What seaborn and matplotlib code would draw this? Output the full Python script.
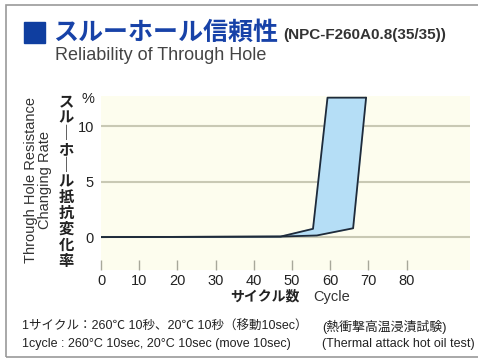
import numpy as np
import pandas as pd
import seaborn as sns
import matplotlib.pyplot as plt
from matplotlib.patches import Rectangle

# band of measured resistance change (%), max side and min side
cycle_max = [0, 47, 55.5, 59.3, 69.4]
rate_max = [0.0, 0.05, 0.75, 12.6, 12.6]
cycle_min = [0, 47, 56.5, 66.0, 69.4]
rate_min = [0.0, 0.05, 0.15, 0.8, 12.6]
x_ticks = [0, 10, 20, 30, 40, 50, 60, 70, 80]
y_ticks = [0, 5, 10]

sns.set_style('white')
plt.rcParams['font.family'] = ['Liberation Sans', 'Noto Sans CJK JP', 'DejaVu Sans']

fig = plt.figure(figsize=(4.78, 3.63), dpi=100)
fig.patch.set_facecolor('white')
# outer frame
fig.patches.append(Rectangle((6 / 478, 1 - 357 / 363), 1.2, (357 - 5) / 363,
                             transform=fig.transFigure, fill=False,
                             edgecolor='#9a9a9a', linewidth=1.2))

ax = fig.add_axes([101 / 478, 1 - 270 / 363, 369 / 478, 174 / 363])
ax.set_facecolor('#fdfdee')

# outline polygon: max side up, min side back down
poly_x = np.concatenate([cycle_max, cycle_min[::-1]])
poly_y = np.concatenate([rate_max, rate_min[::-1]])
ax.fill(poly_x, poly_y, color='#b5def6', zorder=2)
df = pd.DataFrame({'cycle': cycle_max + cycle_min,
                   'rate': rate_max + rate_min,
                   'side': ['max'] * len(cycle_max) + ['min'] * len(cycle_min)})
sns.lineplot(data=df, x='cycle', y='rate', units='side', estimator=None,
             sort=False, color='#1f2b3a', linewidth=1.3, ax=ax, zorder=3)

for v in y_ticks:
    ax.axhline(v, color='#c9c9b4', linewidth=1.5, zorder=1)

ax.set_xlim(0, 96.6)
ax.set_ylim(-2.97, 12.75)
ax.set_xticks(x_ticks)
ax.set_yticks(y_ticks)
ax.tick_params(axis='x', bottom=True, direction='in', length=7, color='#a8a89a',
               width=1, pad=3, labelsize=10.5, labelcolor='#222222')
ax.tick_params(axis='y', left=False, length=0, pad=5, labelsize=10.5,
               labelcolor='#222222')
ax.set_xlabel('')
ax.set_ylabel('')
for s in ax.spines.values():
    s.set_visible(False)

# title block
fig.patches.append(Rectangle((24 / 478, 1 - 43 / 363), 21 / 478, 21 / 363,
                             transform=fig.transFigure, color='#0f3ea0'))
fig.text(53 / 478, 1 - 33 / 363, 'スルーホール信頼性', color='#1742a8',
         fontsize=18, fontweight='bold', va='center', family=['Noto Sans CJK JP'])
fig.text(283 / 478, 1 - 35 / 363, '(NPC-F260A0.8(35/35))', color='#333333',
         fontsize=11, fontweight='bold', va='center')
fig.text(55 / 478, 1 - 56 / 363, 'Reliability of Through Hole', color='#444444',
         fontsize=13, va='center')

# y labels
fig.text(88 / 478, 1 - 99 / 363, '%', fontsize=10.5, ha='center', va='center',
         color='#222222')
jp_label = 'スルーホール抵抗変化率'.replace('ー', '｜')
fig.text(66 / 478, 1 - 93 / 363, '\n'.join(jp_label), fontsize=11,
         fontweight='bold', ha='center', va='top', linespacing=1.0,
         color='#222222', family=['Noto Sans CJK JP'])
fig.text(31 / 478, 1 - 180 / 363, 'Through Hole Resistance', rotation=90,
         fontsize=10.5, ha='center', va='center', color='#333333')
fig.text(45 / 478, 1 - 180 / 363, 'Changing Rate', rotation=90,
         fontsize=10.5, ha='center', va='center', color='#333333')

# x label
fig.text(265 / 478, 1 - 297 / 363, 'サイクル数', fontsize=10, fontweight='bold',
         ha='center', va='center', color='#222222', family=['Noto Sans CJK JP'])
fig.text(332 / 478, 1 - 297 / 363, 'Cycle', fontsize=10.5, ha='center',
         va='center', color='#333333')

# notes
fig.text(22 / 478, 1 - 327 / 363, '1サイクル：260℃ 10秒、20℃ 10秒（移動10sec）',
         fontsize=9, va='center', color='#222222')
fig.text(22 / 478, 1 - 344 / 363, '1cycle : 260°C 10sec, 20°C 10sec (move 10sec)',
         fontsize=9, va='center', color='#222222')
fig.text(322 / 478, 1 - 327 / 363, '(熱衝撃高温浸漬試験)', fontsize=9.3,
         va='center', color='#222222')
fig.text(322 / 478, 1 - 344 / 363, '(Thermal attack hot oil test)', fontsize=9,
         va='center', color='#222222')

fig.savefig('out.png', dpi=100)
